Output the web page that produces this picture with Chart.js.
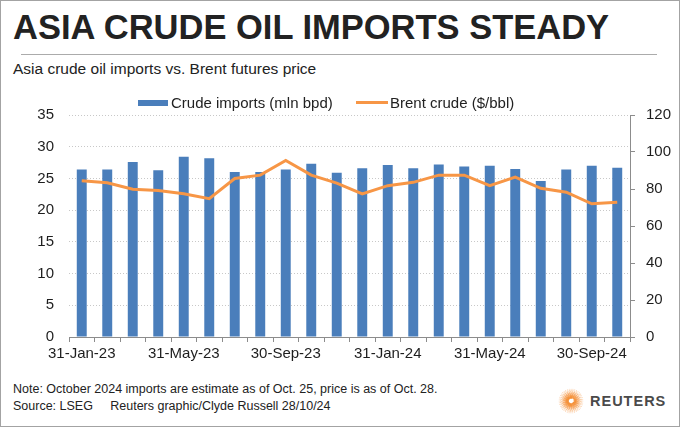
<!DOCTYPE html>
<html>
<head>
<meta charset="utf-8">
<script src="https://cdn.jsdelivr.net/npm/chart.js@4.4.1/dist/chart.umd.min.js"></script>
<style>
	body { margin: 0; background: #fff; }
	#frame { position: relative; width: 680px; height: 427px; box-sizing: border-box; border: 1px solid #a3a3a3; overflow: hidden; font-family: "Liberation Sans", Arial, sans-serif; color: #222; }
	.txt { position: absolute; white-space: nowrap; line-height: 1; }
	#title { left: 12px; top: 9px; font-size: 34.5px; font-weight: bold; color: #222; }
	#rule { position: absolute; left: 20px; top: 53px; width: 636px; height: 1px; background: #ababab; }
	#subtitle { left: 12px; top: 60px; font-size: 15.5px; }
	#chartBox { position: absolute; left: 0; top: 90px; width: 680px; height: 280px; }
	#note { left: 12px; top: 382px; font-size: 12.5px; }
	#source { left: 12px; top: 399px; font-size: 12.5px; }
	#reuters { left: 589px; top: 393px; font-size: 14.5px; font-weight: bold; color: #4a4a4a; letter-spacing: 1px; }
	#logo { position: absolute; left: 557px; top: 387px; }
	.lg-text { font-size: 15px; top: 94px; }
</style>
</head>
<body>
<div id="frame">
	<div id="title" class="txt">ASIA CRUDE OIL IMPORTS STEADY</div>
	<div id="rule"></div>
	<div id="subtitle" class="txt">Asia crude oil imports vs. Brent futures price</div>

	<div id="chartBox"><canvas id="myChart" width="680" height="280"></canvas></div>

	<div id="lgBar" style="position:absolute;left:137px;top:99px;width:30px;height:6px;"></div>
	<div id="lgBarText" class="txt lg-text" style="left:170px;"></div>
	<div id="lgLine" style="position:absolute;left:355px;top:100px;width:32px;height:3px;"></div>
	<div id="lgLineText" class="txt lg-text" style="left:389px;"></div>

	<div id="note" class="txt">Note: October 2024 imports are estimate as of Oct. 25, price is as of Oct. 28.</div>
	<div id="source" class="txt">Source: LSEG&nbsp;&nbsp;&nbsp;&nbsp;&nbsp;Reuters graphic/Clyde Russell 28/10/24</div>
	<canvas id="logo" width="26" height="26"></canvas>
	<div id="reuters" class="txt">REUTERS</div>
</div>

<script>
// month-end dates, Jan 2023 - Oct 2024
var months = ["31-Jan-23", "28-Feb-23", "31-Mar-23", "30-Apr-23", "31-May-23", "30-Jun-23",
	"31-Jul-23", "31-Aug-23", "30-Sep-23", "31-Oct-23", "30-Nov-23", "31-Dec-23",
	"31-Jan-24", "29-Feb-24", "31-Mar-24", "30-Apr-24", "31-May-24", "30-Jun-24",
	"31-Jul-24", "31-Aug-24", "30-Sep-24", "31-Oct-24"];

// crude imports, million barrels per day (left axis)
var imports = [26.4, 26.4, 27.6, 26.3, 28.4, 28.2, 26.0, 26.0, 26.4, 27.3, 25.9,
	26.6, 27.1, 26.6, 27.2, 26.9, 27.0, 26.5, 24.6, 26.4, 27.0, 26.7];

// Brent crude, $/bbl (right axis)
var brent = [84.5, 83.4, 79.9, 79.2, 77.4, 74.8, 85.7, 87.5, 95.4, 87.5, 83.2,
	77.4, 81.8, 83.6, 87.5, 87.5, 81.8, 86.4, 80.4, 78.3, 72.0, 72.8];

var leftTicks = [0, 5, 10, 15, 20, 25, 30, 35];
var rightTicks = [0, 20, 40, 60, 80, 100, 120];

var barLabel = "Crude imports (mln bpd)";
var lineLabel = "Brent crude ($/bbl)";

var barColor = "#4a7ebb";
var lineColor = "#f79646";
var axisColor = "#8c8c8c";
var textColor = "#1e1e1e";

document.getElementById("lgBar").style.background = barColor;
document.getElementById("lgLine").style.background = lineColor;
document.getElementById("lgBarText").textContent = barLabel;
document.getElementById("lgLineText").textContent = lineLabel;

var tickFont = { family: "'Liberation Sans', Arial, sans-serif", size: 15 };

var ctx = document.getElementById('myChart').getContext('2d');
var myChart = new Chart(ctx, {
	data: {
		labels: months,
		datasets: [
			{
				type: 'line',
				label: lineLabel,
				data: brent,
				yAxisID: 'y1',
				borderColor: lineColor,
				backgroundColor: lineColor,
				borderWidth: 3,
				pointRadius: 0,
				tension: 0,
				order: 0
			},
			{
				type: 'bar',
				label: barLabel,
				data: imports,
				yAxisID: 'y',
				backgroundColor: barColor,
				borderWidth: 0,
				barPercentage: 0.39,
				categoryPercentage: 1,
				order: 1
			}
		]
	},
	options: {
		responsive: false,
		animation: false,
		layout: { padding: { top: 18, left: 0, right: 0, bottom: 0 } },
		plugins: {
			legend: { display: false },
			tooltip: { enabled: false }
		},
		scales: {
			x: {
				offset: true,
				grid: {
					offset: true,
					drawOnChartArea: false,
					drawTicks: true,
					tickLength: 5,
					color: axisColor
				},
				border: { display: true, color: axisColor },
				ticks: {
					autoSkip: false,
					maxRotation: 0,
					padding: 3,
					color: textColor,
					font: tickFont,
					callback: function(value, index) {
						return index % 4 === 0 ? months[index] : '';
					}
				},
				afterFit: function(scale) { scale.width = scale.width; scale.height = 34; }
			},
			y: {
				position: 'left',
				min: 0,
				max: 35,
				grid: {
					color: "#c8c8c8",
					drawTicks: false
				},
				// v4: border.dash is used for the grid lines too
				border: { display: false, dash: [1, 2] },
				ticks: {
					padding: 15,
					stepSize: 5,
					color: textColor,
					font: tickFont,
					callback: function(value) {
						return leftTicks.indexOf(value) >= 0 ? value : '';
					}
				},
				afterFit: function(scale) { scale.width = 68; }
			},
			y1: {
				position: 'right',
				min: 0,
				max: 120,
				grid: {
					drawOnChartArea: false,
					drawTicks: true,
					tickLength: 5,
					color: axisColor
				},
				border: { display: true, color: axisColor },
				ticks: {
					padding: 11,
					stepSize: 20,
					color: textColor,
					font: tickFont,
					callback: function(value) {
						return rightTicks.indexOf(value) >= 0 ? value : '';
					}
				},
				afterFit: function(scale) { scale.width = 51; }
			}
		}
	}
});

// Reuters sun logo, rings of orange dots
var lg = document.getElementById('logo').getContext('2d');
for (var r = 4; r <= 12; r += 1.3) {
	var n = Math.round(r * 3.4);
	for (var k = 0; k < n; k++) {
		var a = k / n * Math.PI * 2 + r * 0.4;
		lg.beginPath();
		lg.fillStyle = 'rgba(244, 142, 52,' + (1.1 - r / 16) + ')';
		lg.arc(13 + Math.cos(a) * r, 13 + Math.sin(a) * r, 0.5 + (12 - r) * 0.09, 0, Math.PI * 2);
		lg.fill();
	}
}
// swirl in the middle
lg.beginPath();
lg.strokeStyle = 'rgba(244, 142, 52, 0.9)';
lg.lineWidth = 1.6;
lg.arc(13, 13, 3, 0.3, Math.PI * 1.6);
lg.stroke();
</script>
</body>
</html>
